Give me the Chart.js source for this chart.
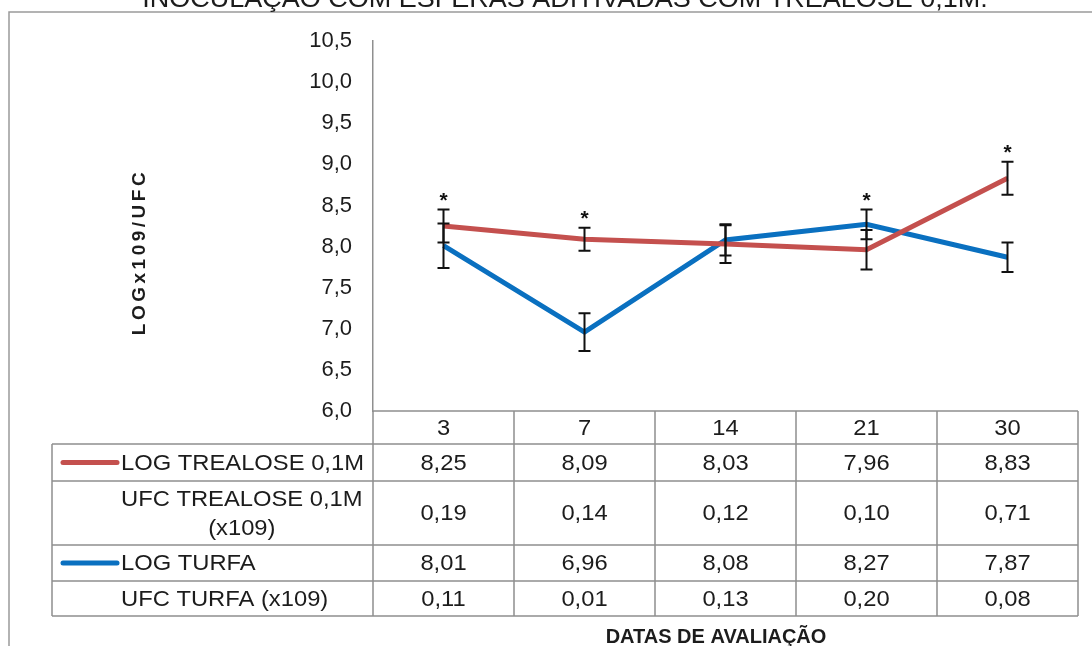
<!DOCTYPE html>
<html>
<head>
<meta charset="utf-8">
<script src="https://cdn.jsdelivr.net/npm/chart.js@4.4.0/dist/chart.umd.min.js"></script>
<style>
  html, body { margin: 0; padding: 0; background: #ffffff; }
  #wrap { position: relative; width: 1092px; height: 646px; overflow: hidden; }
  canvas { display: block; }
</style>
</head>
<body>
<div id="wrap"><canvas id="chart" width="1092" height="646"></canvas></div>
<script>
// Evaluation days (x categories)
const days = ['3', '7', '14', '21', '30'];

// Mean log counts per treatment
const logTrealose = [8.25, 8.09, 8.03, 7.96, 8.83];
const logTurfa    = [8.01, 6.96, 8.08, 8.27, 7.87];

// Colony counts (x10^9) shown in the data table
const ufcTrealose = [0.19, 0.14, 0.12, 0.10, 0.71];
const ufcTurfa    = [0.11, 0.01, 0.13, 0.20, 0.08];

// Error bar half-widths (log units)
const errTrealose = [0.20, 0.14, 0.23, 0.24, 0.20];
const errTurfa    = [0.27, 0.23, 0.19, 0.18, 0.18];

// Days marked with a significance asterisk
const significant = [true, true, false, true, true];

// Y axis range and step
const yMin = 6.0, yMax = 10.5, yStep = 0.5;

const RED = '#C4504E';
const BLUE = '#0A70C0';
const GRID = '#8f8f8f';
const TEXT = '#1c1c1c';
const FONT = '"Liberation Sans", Arial, sans-serif';
const STRETCH = 1.08;   // slightly wide lettering used in the table and title

const fmt1 = v => v.toFixed(1).replace('.', ',');
const fmt2 = v => v.toFixed(2).replace('.', ',');

// Rows of the data table under the plot
const tableRows = [
  { label: ['LOG TREALOSE 0,1M'], values: logTrealose, key: RED },
  { label: ['UFC TREALOSE 0,1M', '(x109)'], values: ufcTrealose, key: null },
  { label: ['LOG TURFA'], values: logTurfa, key: BLUE },
  { label: ['UFC TURFA (x109)'], values: ufcTurfa, key: null }
];

// draws horizontally widened text
function wideText(ctx, str, x, y, align) {
  ctx.save();
  ctx.translate(x, y);
  ctx.scale(STRETCH, 1);
  ctx.textAlign = align;
  ctx.fillText(str, 0, 0);
  ctx.restore();
}

// Error bars and significance marks, drawn from the scales
const errorBarPlugin = {
  id: 'errorBars',
  afterDatasetsDraw(chart) {
    const { ctx, scales: { x, y } } = chart;
    ctx.save();
    ctx.strokeStyle = '#111';
    ctx.lineWidth = 2;
    const tops = days.map(() => Infinity);
    chart.data.datasets.forEach(ds => {
      ds.data.forEach((v, i) => {
        const e = ds.errors[i];
        const px = x.getPixelForValue(i);
        const yt = y.getPixelForValue(v + e);
        const yb = y.getPixelForValue(v - e);
        tops[i] = Math.min(tops[i], yt);
        ctx.beginPath();
        ctx.moveTo(px, yt); ctx.lineTo(px, yb);
        ctx.moveTo(px - 6, yt); ctx.lineTo(px + 6, yt);
        ctx.moveTo(px - 6, yb); ctx.lineTo(px + 6, yb);
        ctx.stroke();
      });
    });
    ctx.fillStyle = '#111';
    ctx.font = `bold 21px ${FONT}`;
    ctx.textAlign = 'center';
    ctx.textBaseline = 'alphabetic';
    significant.forEach((s, i) => {
      if (!s) return;
      ctx.fillText('*', x.getPixelForValue(i), tops[i] - 3);
    });
    ctx.restore();
  }
};

// Data table, titles and outer frame
const tablePlugin = {
  id: 'dataTable',
  afterDraw(chart) {
    const { ctx, scales: { x }, chartArea } = chart;
    const half = (x.getPixelForValue(1) - x.getPixelForValue(0)) / 2;
    const colEdges = [x.getPixelForValue(0) - half];
    days.forEach((d, i) => colEdges.push(x.getPixelForValue(i) + half));
    const left = 52;
    const right = colEdges[colEdges.length - 1];
    const axisY = chartArea.bottom;
    const rowEdges = [444, 481, 545, 581, 616];

    ctx.save();
    // outer chart frame
    ctx.strokeStyle = '#9a9a9a';
    ctx.lineWidth = 1.5;
    ctx.beginPath();
    ctx.moveTo(9, 660); ctx.lineTo(9, 12); ctx.lineTo(1100, 12);
    ctx.stroke();

    // grid
    ctx.strokeStyle = GRID;
    ctx.lineWidth = 1.5;
    ctx.beginPath();
    ctx.moveTo(colEdges[0], axisY); ctx.lineTo(right, axisY);
    rowEdges.forEach(r => { ctx.moveTo(left, r); ctx.lineTo(right, r); });
    ctx.moveTo(left, rowEdges[0]); ctx.lineTo(left, rowEdges[rowEdges.length - 1]);
    colEdges.forEach(c => { ctx.moveTo(c, axisY); ctx.lineTo(c, rowEdges[rowEdges.length - 1]); });
    ctx.stroke();

    ctx.fillStyle = TEXT;
    ctx.font = `22px ${FONT}`;
    ctx.textBaseline = 'middle';
    // header: days
    days.forEach((d, i) => wideText(ctx, d, x.getPixelForValue(i), (axisY + rowEdges[0]) / 2 + 1, 'center'));

    // body rows
    tableRows.forEach((row, r) => {
      const top = rowEdges[r], bot = rowEdges[r + 1];
      const cy = (top + bot) / 2 + 1;
      row.values.forEach((v, i) => wideText(ctx, fmt2(v), x.getPixelForValue(i), cy, 'center'));
      if (row.key) {
        ctx.save();
        ctx.strokeStyle = row.key;
        ctx.lineWidth = 5;
        ctx.lineCap = 'round';
        ctx.beginPath();
        ctx.moveTo(63, cy - 1); ctx.lineTo(117, cy - 1);
        ctx.stroke();
        ctx.restore();
      }
      const tx = 121;
      if (row.label.length === 1) {
        wideText(ctx, row.label[0], tx, cy, 'left');
      } else {
        const w = ctx.measureText(row.label[0]).width * STRETCH;
        const lh = 29;
        wideText(ctx, row.label[0], tx, cy - lh / 2, 'left');
        wideText(ctx, row.label[1], tx + w / 2, cy + lh / 2, 'center');
      }
    });

    // axis titles
    ctx.textAlign = 'center';
    ctx.textBaseline = 'middle';
    ctx.font = `bold 20px ${FONT}`;
    ctx.fillText('DATAS DE AVALIAÇÃO', 716, 637);

    ctx.save();
    ctx.translate(140, 252);
    ctx.rotate(-Math.PI / 2);
    ctx.font = `bold 19px ${FONT}`;
    ctx.letterSpacing = '3.5px';
    ctx.fillText('LOGx109/UFC', 0, 0);
    ctx.restore();

    // chart title (runs past the top edge of the page)
    ctx.font = `25px ${FONT}`;
    ctx.textBaseline = 'alphabetic';
    wideText(ctx, 'INOCULAÇÃO COM ESFERAS ADITIVADAS COM TREALOSE 0,1M.', 565, 6.5, 'center');
    ctx.restore();
  }
};

new Chart(document.getElementById('chart'), {
  type: 'line',
  data: {
    labels: days,
    datasets: [
      { label: 'LOG TREALOSE 0,1M', data: logTrealose, errors: errTrealose,
        borderColor: RED, borderWidth: 5, pointRadius: 0, tension: 0, fill: false },
      { label: 'LOG TURFA', data: logTurfa, errors: errTurfa,
        borderColor: BLUE, borderWidth: 5, pointRadius: 0, tension: 0, fill: false }
    ]
  },
  options: {
    responsive: false,
    animation: false,
    events: [],
    layout: { padding: { left: 0, top: 41, right: 14, bottom: 235 } },
    plugins: { legend: { display: false }, tooltip: { enabled: false }, title: { display: false } },
    scales: {
      x: { display: false, offset: true },
      y: {
        min: yMin, max: yMax,
        ticks: { stepSize: yStep, callback: v => fmt1(v), color: TEXT,
                 font: { family: FONT, size: 22 }, padding: 21 },
        grid: { display: false, drawTicks: false },
        border: { display: true, color: GRID, width: 1.5 },
        afterFit(scale) { scale.width = 373; }
      }
    }
  },
  plugins: [errorBarPlugin, tablePlugin]
});
</script>
</body>
</html>
